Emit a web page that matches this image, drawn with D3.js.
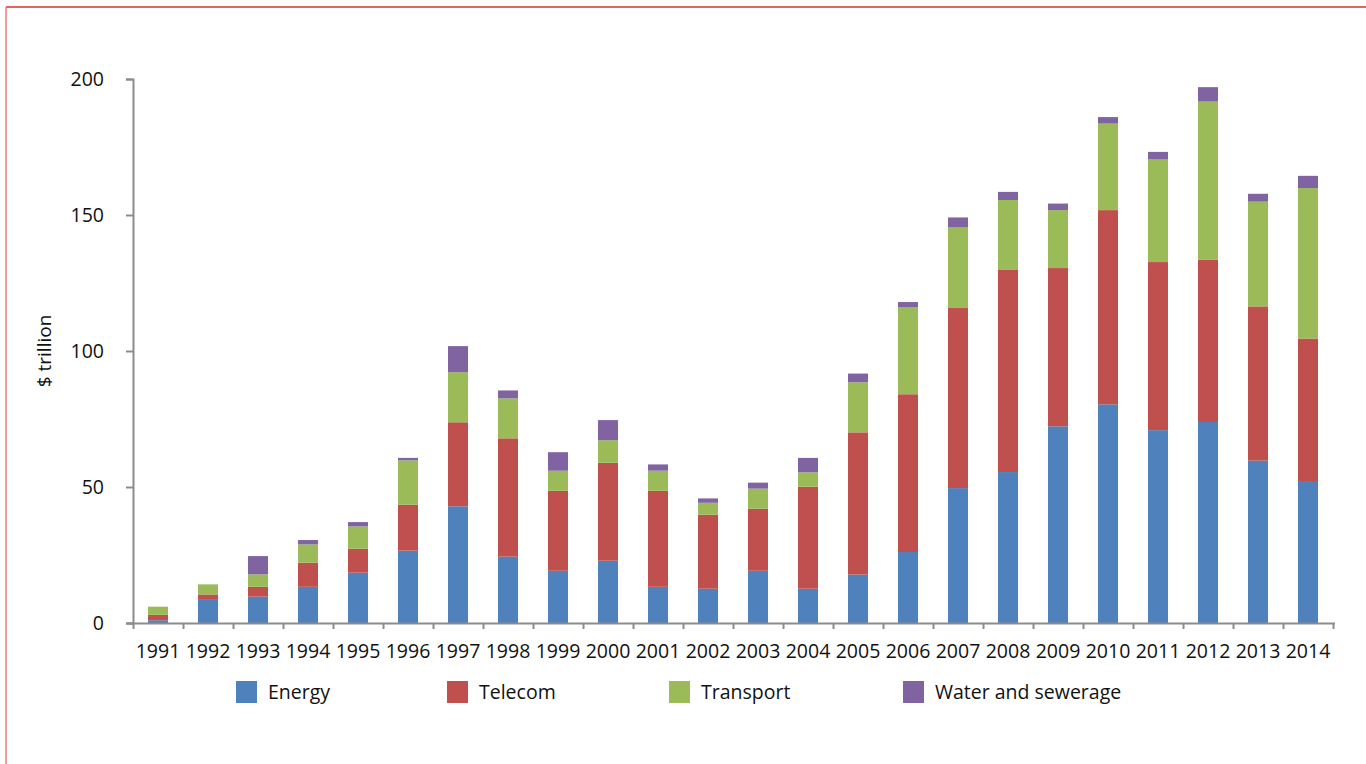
<!DOCTYPE html>
<html>
<head>
<meta charset="utf-8">
<script src="https://cdn.jsdelivr.net/npm/d3@7"></script>
<style>
  html, body { margin: 0; padding: 0; background: #fff; }
  svg { display: block; }
  text { font-family: "Open Sans", "Noto Sans", sans-serif; fill: #111; }
</style>
</head>
<body>
<svg id="chart" width="1366" height="764"></svg>
<script>
// Private infrastructure investment by sector, 1991-2014 ($ trillion)
const years = ["1991","1992","1993","1994","1995","1996","1997","1998","1999","2000","2001","2002",
               "2003","2004","2005","2006","2007","2008","2009","2010","2011","2012","2013","2014"];
const energy    = [1.0, 8.5, 9.7, 13.3, 18.5, 26.6, 42.9, 24.4, 19.2, 22.9, 13.3, 12.6,
                   19.2, 12.6, 17.8, 26.1, 49.6, 55.5, 72.3, 80.4, 70.9, 73.9, 59.7, 52.2];
const telecom   = [2.0, 2.0, 3.6, 8.9, 8.8, 16.9, 30.9, 43.5, 29.4, 36.0, 35.3, 27.2,
                   22.8, 37.5, 52.3, 58.0, 66.2, 74.3, 58.2, 71.4, 61.8, 59.6, 56.7, 52.4];
const transport = [3.0, 3.7, 4.6, 6.7, 8.2, 16.3, 18.4, 14.7, 7.4, 8.3, 7.4, 4.4,
                   7.4, 5.3, 18.4, 31.9, 29.6, 25.7, 21.3, 31.8, 37.7, 58.2, 38.5, 55.3];
const water     = [0.0, 0.0, 6.7, 1.6, 1.6, 0.9, 9.6, 2.9, 6.8, 7.4, 2.3, 1.6,
                   2.2, 5.3, 3.2, 2.0, 3.7, 3.0, 2.4, 2.4, 2.8, 5.3, 2.9, 4.5];
const seriesNames = ["Energy", "Telecom", "Transport", "Water and sewerage"];
const yTicks = [0, 50, 100, 150, 200];
const yTitle = "$ trillion";

const colors = ["#4F81BD", "#C0504D", "#9BBB59", "#8064A2"];
const keys = ["energy", "telecom", "transport", "water"];
const fontSize = "19.5px";

const table = years.map((yr, i) => ({
  year: yr, energy: energy[i], telecom: telecom[i], transport: transport[i], water: water[i]
}));

const svg = d3.select("#chart");

// page frame lines
svg.append("line").attr("x1", 6).attr("x2", 1366).attr("y1", 7).attr("y2", 7)
  .attr("stroke", "#d8312e").attr("stroke-width", 1.5);
svg.append("line").attr("x1", 6).attr("x2", 6).attr("y1", 7).attr("y2", 764)
  .attr("stroke", "#f07a7a").attr("stroke-width", 1.5);

const plot = { left: 133, right: 1333, top: 79, bottom: 623 };

const x = d3.scaleBand().domain(years).range([plot.left, plot.right])
  .paddingInner(0.6).paddingOuter(0.3);
const y = d3.scaleLinear().domain([0, 200]).range([plot.bottom, plot.top]);

const layers = d3.stack().keys(keys)(table);

const g = svg.append("g");
g.selectAll("g.layer").data(layers).join("g")
  .attr("class", "layer")
  .attr("fill", (d, i) => colors[i])
  .selectAll("rect").data(d => d).join("rect")
  .attr("x", d => x(d.data.year))
  .attr("width", x.bandwidth())
  .attr("y", d => y(d[1]))
  .attr("height", d => Math.max(0, y(d[0]) - y(d[1])));

// y axis
const yAxis = d3.axisLeft(y).tickValues(yTicks).tickSize(7).tickPadding(22);
const gy = svg.append("g").attr("transform", `translate(${plot.left},0)`).call(yAxis);
gy.select(".domain").attr("stroke", "#8c8c8c").attr("stroke-width", 2);
gy.selectAll(".tick line").attr("stroke", "#8c8c8c").attr("stroke-width", 2);
gy.selectAll(".tick text").style("font-size", fontSize).attr("fill", "#111");

// x axis: boundary ticks between years
const xEdge = d3.scaleLinear().domain([0, years.length]).range([plot.left, plot.right]);
const gxTicks = svg.append("g").attr("transform", `translate(0,${plot.bottom})`)
  .call(d3.axisBottom(xEdge).tickValues(d3.range(years.length + 1)).tickFormat("").tickSize(6).tickSizeOuter(0));
gxTicks.select(".domain").attr("stroke", "#8c8c8c").attr("stroke-width", 2)
  .attr("d", `M${plot.left - 6},0.5H${plot.right + 2}`);
gxTicks.selectAll(".tick line").attr("stroke", "#8c8c8c").attr("stroke-width", 2);

// x labels centred on the bars
const gxLabels = svg.append("g").attr("transform", `translate(0,${plot.bottom})`)
  .call(d3.axisBottom(x).tickSize(0).tickPadding(21));
gxLabels.select(".domain").remove();
gxLabels.selectAll(".tick text").style("font-size", fontSize).attr("fill", "#111");

// y title
svg.append("text")
  .attr("transform", "translate(51,351) rotate(-90)")
  .attr("text-anchor", "middle")
  .style("font-size", "19px")
  .text(yTitle);

// legend, one swatch + label per sector along a single row
const legendOffsets = [0, 211, 433, 667];
const legend = svg.append("g").attr("transform", "translate(236,692)");
seriesNames.forEach((name, i) => {
  const item = legend.append("g").attr("transform", `translate(${legendOffsets[i]},0)`);
  item.append("rect").attr("x", 0).attr("y", -11).attr("width", 21).attr("height", 22)
    .attr("fill", colors[i]);
  item.append("text").attr("x", 32).attr("y", 0).attr("dy", "0.35em")
    .style("font-size", fontSize).text(name);
});
</script>
</body>
</html>
